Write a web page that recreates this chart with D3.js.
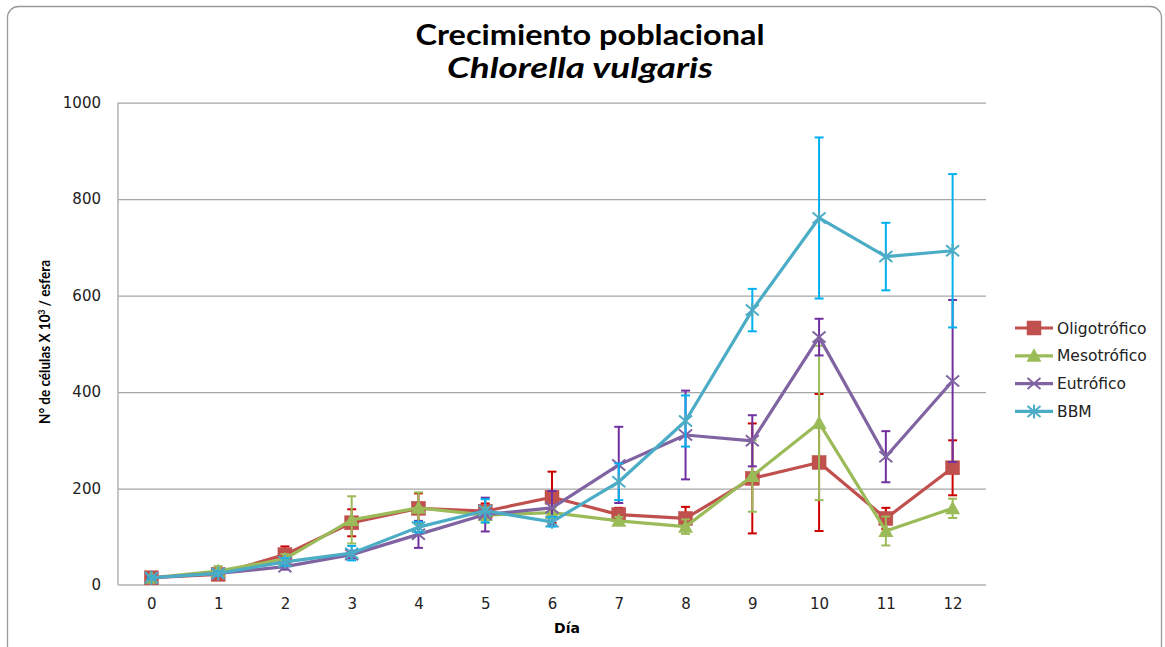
<!DOCTYPE html>
<html>
<head>
<meta charset="utf-8">
<script src="https://cdn.jsdelivr.net/npm/d3@7"></script>
<style>
  html, body { margin: 0; padding: 0; background: #fff; }
  svg { display: block; }
</style>
</head>
<body>
<svg id="chart" width="1165" height="647"></svg>
<script>
// Days of culture
const days = [0, 1, 2, 3, 4, 5, 6, 7, 8, 9, 10, 11, 12];
const yTicks = [0, 200, 400, 600, 800, 1000];

// Mean cell counts (x10^3 per sphere) and error (±)
const oligotrofico    = [15, 22, 63, 129, 159, 153, 182, 146, 138, 221, 254, 138, 243];
const oligotroficoErr = [3, 4, 17, 28, 31, 16, 53, 14, 24, 114, 142, 22, 57];
const mesotrofico     = [15, 29, 54, 135, 160, 145, 150, 133, 121, 226, 336, 112, 159];
const mesotroficoErr  = [3, 10, 10, 49, 32, 16, 10, 8, 15, 74, 160, 30, 20];
const eutrofico       = [15, 24, 38, 63, 105, 146, 160, 249, 311, 299, 514, 266, 423];
const eutroficoErr    = [3, 5, 6, 8, 28, 35, 35, 79, 92, 53, 38, 53, 168];
const bbm             = [15, 24, 48, 66, 120, 154, 131, 214, 340, 570, 761, 681, 693];
const bbmErr          = [3, 5, 8, 15, 11, 24, 10, 38, 53, 44, 167, 70, 159];

const seriesNames = ["Oligotrófico", "Mesotrófico", "Eutrófico", "BBM"];

const series = [
  { name: seriesNames[0], values: oligotrofico, err: oligotroficoErr, color: "#C0504D", errColor: "#CC0000", marker: "square" },
  { name: seriesNames[1], values: mesotrofico,  err: mesotroficoErr,  color: "#9BBB59", errColor: "#9BBB59", marker: "triangle" },
  { name: seriesNames[2], values: eutrofico,    err: eutroficoErr,    color: "#8064A2", errColor: "#7030A0", marker: "x" },
  { name: seriesNames[3], values: bbm,          err: bbmErr,          color: "#4BACC6", errColor: "#00B0F0", marker: "star" }
];

const svg = d3.select("#chart");
const labelFont = "'DejaVu Sans', Verdana, sans-serif";
const titleFont = "'Liberation Sans Narrow', Lato, sans-serif";

// Chart frame
svg.append("rect")
  .attr("x", 7.5).attr("y", 6.5)
  .attr("width", 1154).attr("height", 650)
  .attr("rx", 11).attr("ry", 11)
  .attr("fill", "#fff")
  .attr("stroke", "#9a9a9a")
  .attr("stroke-width", 1.3);

const plot = { left: 118, right: 986, top: 102.7, bottom: 585 };

const x = d3.scalePoint().domain(days).range([plot.left, plot.right]).padding(0.5);
const y = d3.scaleLinear().domain([0, 1000]).range([plot.bottom, plot.top]);

// Gridlines and y tick labels
const yAxis = svg.append("g")
  .attr("transform", `translate(${plot.left},0)`)
  .call(d3.axisLeft(y).tickValues(yTicks).tickSize(-(plot.right - plot.left)).tickPadding(17).tickFormat(d3.format("d")));
yAxis.select(".domain").remove();
yAxis.selectAll(".tick line").attr("stroke", "#a6a6a6").attr("stroke-width", 1.2);
yAxis.selectAll(".tick text")
  .attr("font-family", labelFont)
  .attr("font-size", 15)
  .attr("fill", "#222");

// Vertical axis line
svg.append("line")
  .attr("x1", plot.left).attr("x2", plot.left)
  .attr("y1", plot.top).attr("y2", plot.bottom)
  .attr("stroke", "#a6a6a6").attr("stroke-width", 1.3);

// x axis
const xAxis = svg.append("g")
  .attr("transform", `translate(0,${plot.bottom})`)
  .call(d3.axisBottom(x).tickSize(0).tickPadding(13));
xAxis.select(".domain").remove();
xAxis.selectAll(".tick text")
  .attr("font-family", labelFont)
  .attr("font-size", 15)
  .attr("fill", "#222");
svg.append("line")
  .attr("x1", plot.left).attr("x2", plot.right)
  .attr("y1", plot.bottom).attr("y2", plot.bottom)
  .attr("stroke", "#c4c4c4").attr("stroke-width", 2.2);

// Marker shapes
function drawMarker(g, type, cx, cy, color) {
  if (type === "square") {
    g.append("rect").attr("x", cx - 7).attr("y", cy - 7).attr("width", 14).attr("height", 14)
      .attr("fill", color).attr("stroke", color).attr("stroke-width", 0.5);
  } else if (type === "triangle") {
    g.append("path").attr("d", `M${cx},${cy - 7.5}L${cx + 7.5},${cy + 6}L${cx - 7.5},${cy + 6}Z`)
      .attr("fill", color);
  } else if (type === "x") {
    g.append("path").attr("d", `M${cx - 6.5},${cy - 5.5}L${cx + 6.5},${cy + 5.5}M${cx - 6.5},${cy + 5.5}L${cx + 6.5},${cy - 5.5}`)
      .attr("stroke", color).attr("stroke-width", 2).attr("fill", "none");
  } else if (type === "star") {
    g.append("path").attr("d", `M${cx - 6.5},${cy - 5.5}L${cx + 6.5},${cy + 5.5}M${cx - 6.5},${cy + 5.5}L${cx + 6.5},${cy - 5.5}M${cx},${cy - 7}L${cx},${cy + 7}`)
      .attr("stroke", color).attr("stroke-width", 2).attr("fill", "none");
  }
}

const line = d3.line().x((d, i) => x(days[i])).y(d => y(d));

series.forEach(s => {
  const g = svg.append("g");
  // error bars
  const eb = g.append("g").attr("stroke", s.errColor).attr("stroke-width", 2).attr("fill", "none");
  s.values.forEach((v, i) => {
    const cx = x(days[i]);
    const hi = y(v + s.err[i]), lo = y(Math.max(0, v - s.err[i]));
    eb.append("line").attr("x1", cx).attr("x2", cx).attr("y1", hi).attr("y2", lo);
    eb.append("line").attr("x1", cx - 4.5).attr("x2", cx + 4.5).attr("y1", hi).attr("y2", hi);
    eb.append("line").attr("x1", cx - 4.5).attr("x2", cx + 4.5).attr("y1", lo).attr("y2", lo);
  });
  // series line
  g.append("path").datum(s.values)
    .attr("d", line)
    .attr("fill", "none")
    .attr("stroke", s.color)
    .attr("stroke-width", 3.2)
    .attr("stroke-linejoin", "round");
  // markers
  s.values.forEach((v, i) => drawMarker(g, s.marker, x(days[i]), y(v), s.color));
});

// Titles
svg.append("text")
  .attr("x", 590).attr("y", 45)
  .attr("text-anchor", "middle")
  .attr("font-family", titleFont)
  .attr("font-weight", "bold").attr("font-size", 28)
  .attr("textLength", 349).attr("lengthAdjust", "spacingAndGlyphs")
  .attr("fill", "#000")
  .text("Crecimiento poblacional");
svg.append("text")
  .attr("x", 580).attr("y", 78)
  .attr("text-anchor", "middle")
  .attr("font-family", titleFont)
  .attr("font-weight", "bold").attr("font-style", "italic").attr("font-size", 28)
  .attr("textLength", 266).attr("lengthAdjust", "spacingAndGlyphs")
  .attr("fill", "#000")
  .text("Chlorella vulgaris");

// Axis titles
const yTitle = svg.append("text")
  .attr("transform", "translate(50,342) rotate(-90)")
  .attr("text-anchor", "middle")
  .attr("font-family", titleFont)
  .attr("font-weight", "bold").attr("font-size", 15.5)
  .attr("textLength", 164).attr("lengthAdjust", "spacingAndGlyphs")
  .attr("fill", "#000");
yTitle.append("tspan").text("N° de células X 10");
yTitle.append("tspan").attr("font-size", 9.5).attr("dy", -5).text("3");
yTitle.append("tspan").attr("dy", 5).text(" / esfera");

svg.append("text")
  .attr("x", 567).attr("y", 633)
  .attr("text-anchor", "middle")
  .attr("font-family", labelFont)
  .attr("font-weight", "bold").attr("font-size", 14)
  .attr("fill", "#000")
  .text("Día");

// Legend
const legend = svg.append("g");
series.forEach((s, i) => {
  const ly = 328 + i * 27.8;
  const lg = legend.append("g");
  lg.append("line").attr("x1", 1015).attr("x2", 1053).attr("y1", ly).attr("y2", ly)
    .attr("stroke", s.color).attr("stroke-width", 3.2);
  drawMarker(lg, s.marker, 1034, ly, s.color);
  lg.append("text").attr("x", 1057).attr("y", ly + 5.5)
    .attr("font-family", labelFont)
    .attr("font-size", 15.5).attr("fill", "#222")
    .text(s.name);
});
</script>
</body>
</html>
